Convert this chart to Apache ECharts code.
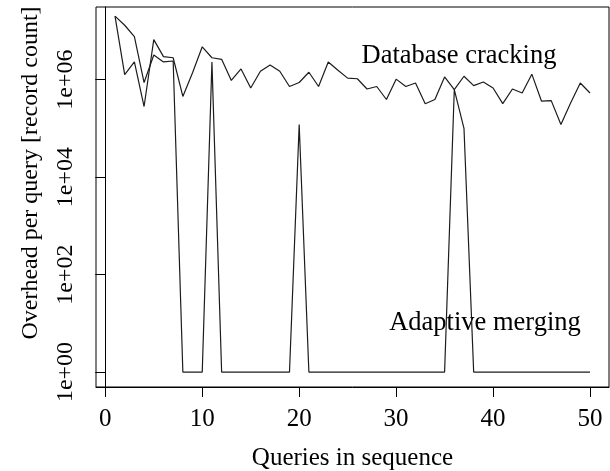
<!DOCTYPE html>
<html>
<head>
<meta charset="utf-8">
<script src="https://cdn.jsdelivr.net/npm/echarts@6/dist/echarts.min.js"></script>
<style>
  html, body { margin: 0; padding: 0; background: #fff; }
  #main { width: 610px; height: 471px; }
</style>
</head>
<body>
<div id="main"></div>
<script>
// queries 1..50
const queries = Array.from({ length: 50 }, (_, i) => i + 1)

// overhead per query
const cracking = [
  2.0e7, 1.26e6, 2.3e6, 2.8e5, 6.6e6, 2.95e6, 2.8e6, 4.5e5, 1.38e6, 4.7e6,
  2.8e6, 2.6e6, 9.6e5, 1.65e6, 6.7e5, 1.48e6, 2.0e6, 1.48e6, 7.2e5, 8.7e5,
  1.41e6, 7.2e5, 2.3e6, 1.55e6, 1.07e6, 1.04e6, 6.4e5, 7.2e5, 3.9e5, 1.02e6,
  7.2e5, 8.5e5, 3.2e5, 3.9e5, 1.13e6, 6.2e5, 1.17e6, 7.5e5, 8.9e5, 6.7e5,
  3.2e5, 6.4e5, 5.3e5, 1.29e6, 3.6e5, 3.7e5, 1.2e5, 3.3e5, 8.5e5, 5.3e5
]
const merging = [
  2.0e7, 1.3e7, 7.6e6, 8.7e5, 3.2e6, 2.3e6, 2.4e6, 1, 1, 1,
  2.3e6, 1, 1, 1, 1, 1, 1, 1, 1, 1.2e5,
  1, 1, 1, 1, 1, 1, 1, 1, 1, 1,
  1, 1, 1, 1, 1, 6.2e5, 1.0e5, 1, 1, 1,
  1, 1, 1, 1, 1, 1, 1, 1, 1, 1
]

const xTicks = [0, 10, 20, 30, 40, 50]
const yTicks = [1, 100, 1e4, 1e6]

const font = 'Liberation Serif'
const lineColor = '#1c1c1c'

const myChart = echarts.init(document.getElementById('main'))

// R style label: 1e+06
function sciLabel(v) {
  const e = Math.round(Math.log10(v))
  return '1e+' + (e < 10 ? '0' + e : e)
}

const option = {
  animation: false,
  backgroundColor: '#fff',
  grid: {
    left: 96,
    top: 7,
    right: 1,
    bottom: 84,
    outerBoundsMode: 'none',
    containLabel: false,
    show: true,
    borderColor: '#000',
    borderWidth: 1
  },
  xAxis: {
    type: 'value',
    min: -0.96,
    max: 51.96,
    name: 'Queries in sequence',
    nameLocation: 'middle',
    nameGap: 59,
    nameTextStyle: { fontFamily: font, fontSize: 25, color: '#000' },
    axisLine: { show: true, lineStyle: { color: '#000', width: 1 } },
    axisTick: { show: true, length: 10, customValues: xTicks, lineStyle: { color: '#000' } },
    axisLabel: {
      customValues: xTicks,
      margin: 20,
      fontFamily: font,
      fontSize: 25,
      color: '#000'
    },
    splitLine: { show: false }
  },
  yAxis: {
    type: 'log',
    min: 0.493,
    max: 3.08e7,
    name: 'Overhead per query [record count]',
    nameLocation: 'middle',
    nameGap: 53,
    nameTextStyle: { fontFamily: font, fontSize: 24, color: '#000', padding: [0, 0, 0, 48] },
    axisLine: { show: true, lineStyle: { color: '#000', width: 1 } },
    axisTick: { show: true, length: 10, customValues: yTicks, lineStyle: { color: '#000' } },
    axisLabel: {
      customValues: yTicks,
      rotate: 90,
      margin: 18,
      fontFamily: font,
      fontSize: 24,
      color: '#000',
      formatter: sciLabel
    },
    splitLine: { show: false }
  },
  series: [
    {
      name: 'Database cracking',
      type: 'line',
      symbol: 'none',
      lineStyle: { color: lineColor, width: 1.2 },
      data: queries.map((q, i) => [q, cracking[i]])
    },
    {
      name: 'Adaptive merging',
      type: 'line',
      symbol: 'none',
      lineStyle: { color: lineColor, width: 1.2 },
      data: queries.map((q, i) => [q, merging[i]])
    }
  ],
  graphic: [
    {
      type: 'text',
      x: 459,
      y: 56,
      style: {
        text: 'Database cracking',
        font: '26.5px "Liberation Serif"',
        fill: '#000',
        textAlign: 'center',
        textVerticalAlign: 'middle'
      }
    },
    {
      type: 'text',
      x: 485,
      y: 323,
      style: {
        text: 'Adaptive merging',
        font: '26.5px "Liberation Serif"',
        fill: '#000',
        textAlign: 'center',
        textVerticalAlign: 'middle'
      }
    }
  ]
}

myChart.setOption(option)
</script>
</body>
</html>
